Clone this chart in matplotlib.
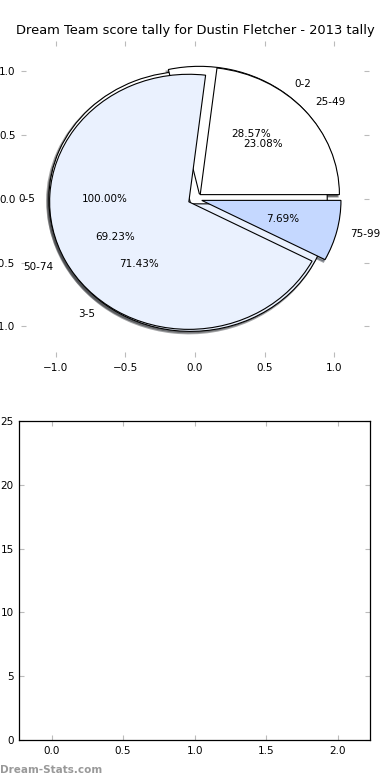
import matplotlib
matplotlib.use("Agg")
import matplotlib.pyplot as plt

# pie data: three tallies drawn on top of each other
labels_a = ["0-5"]
values_a = [1]
labels_b = ["0-2", "3-5"]
values_b = [2, 5]
labels_c = ["25-49", "50-74", "75-99"]
values_c = [3, 9, 1]

PALETTE = ["#FFFFFF", "#EAF1FE", "#C5D8FF"]
TICK_GREY = "#BBBBBB"

plt.rcParams["font.family"] = "DejaVu Sans"

fig = plt.figure(figsize=(3.9, 7.8), dpi=100)
W, H = 390.0, 780.0

# ---- top panel: overlaid pies ----
ax = fig.add_axes([21 / W, 1 - 357 / H, 348 / W, 316.3 / H])
for vals, labs in [(values_a, labels_a), (values_b, labels_b), (values_c, labels_c)]:
    # old-style shadow: small offset, shows up as a darker rim
    ax.pie(vals, labels=labs, explode=[0.05] * len(vals),
           colors=PALETTE[:len(vals)], autopct="%1.2f%%",
           shadow={"ox": -0.009, "oy": -0.011, "linewidth": 1.5},
           startangle=0,
           wedgeprops={"edgecolor": "black", "linewidth": 0.8},
           textprops={"fontsize": 7.5})

ax.set_aspect("auto")
ax.set_xlim(-1.25, 1.25)
ax.set_ylim(-1.24, 1.24)
ax.set_xticks([-1.0, -0.5, 0.0, 0.5, 1.0])
ax.set_yticks([-1.0, -0.5, 0.0, 0.5, 1.0])
ax.tick_params(direction="in", length=3.5, color=TICK_GREY, labelsize=7.5,
               top=True, right=True, pad=4)
ax.set_title("Dream Team score tally for Dustin Fletcher - 2013 tally",
             fontsize=9.35, pad=4.5)

# ---- bottom panel: empty bar area ----
ax2 = fig.add_axes([19.3 / W, 1 - 740 / H, 350.7 / W, 319 / H])
ax2.set_xlim(-0.225, 2.225)
ax2.set_ylim(0, 25)
ax2.set_xticks([0.0, 0.5, 1.0, 1.5, 2.0])
ax2.set_xticklabels(["0.0", "0.5", "1.0", "1.5", "2.0"])
ax2.set_yticks([0, 5, 10, 15, 20, 25])
ax2.tick_params(direction="in", length=3.5, color=TICK_GREY, labelsize=7.5,
                top=True, right=True, pad=4)
for sp in ax2.spines.values():
    sp.set_linewidth(0.9)

fig.text(0.0, 1 - 770 / H, "Dream-Stats.com", fontsize=7.5, fontweight="bold",
         color="#999999", ha="left", va="center")

fig.savefig("out.png", dpi=100)
